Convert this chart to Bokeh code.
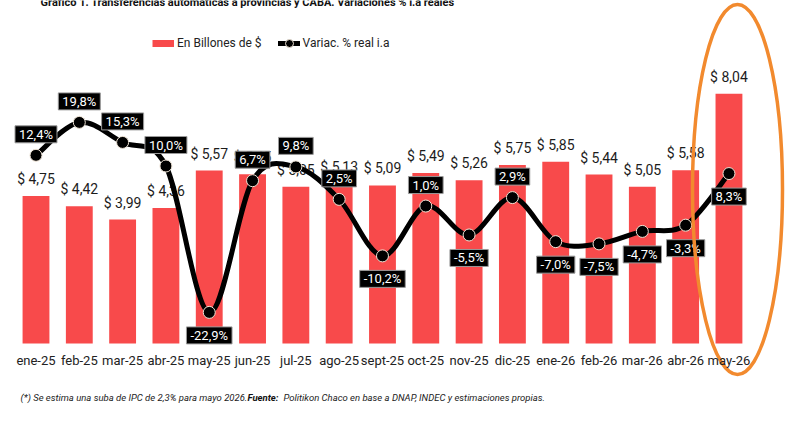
from bokeh.plotting import figure
from bokeh.models import Range1d, LinearAxis, FixedTicker, Legend, LegendItem, ColumnDataSource
from bokeh.core.properties import value
from bokeh.embed import file_html
from bokeh.resources import INLINE

# Monthly automatic transfers to provinces and CABA
meses = ["ene-25", "feb-25", "mar-25", "abr-25", "may-25", "jun-25", "jul-25",
         "ago-25", "sept-25", "oct-25", "nov-25", "dic-25", "ene-26", "feb-26",
         "mar-26", "abr-26", "may-26"]
billones = [4.75, 4.42, 3.99, 4.36, 5.57, 5.45, 5.05, 5.13, 5.09, 5.49, 5.26,
            5.75, 5.85, 5.44, 5.05, 5.58, 8.04]
variacion = [12.4, 19.8, 15.3, 10.0, -22.9, 6.7, 9.8, 2.5, -10.2, 1.0, -5.5,
             2.9, -7.0, -7.5, -4.7, -3.3, 8.3]

titulo = "Gráfico 1. Transferencias automáticas a provincias y CABA. Variaciones % i.a reales"
nota = "(*) Se estima una suba de IPC de 2,3% para mayo 2026."
fuente_tag = "Fuente:"
fuente = "Politikon Chaco en base a DNAP, INDEC y estimaciones propias."

W, H = 800, 445
BAR_RED = "#F84A4B"
SANS = value("Roboto")

# pixel layout of the frame -> data ranges
X0, DX = 35.5, 43.31          # centre of first month, month spacing (px)
Y0, SY = 343.0, 31.05         # bar baseline (px), px per billion
P0, SP = 210.0, 4.45          # zero of % scale (px), px per point


def px_x(px):
    return (px - X0) / DX


def px_y(py):
    return (Y0 - py) / SY


p = figure(width=W, height=H, min_border=0, toolbar_location=None,
           output_backend="svg", x_axis_location=None, y_axis_location=None,
           x_range=Range1d(px_x(0), px_x(W)),
           y_range=Range1d(px_y(H), px_y(0)))
p.extra_y_ranges = {"pct": Range1d(-(H - P0) / SP, P0 / SP)}
p.grid.visible = False
p.outline_line_color = None
p.background_fill_color = "white"
p.border_fill_color = "white"

idx = list(range(len(meses)))
src = ColumnDataSource(dict(
    x=idx, monto=billones, var=variacion,
    monto_txt=["$ " + f"{v:.2f}".replace(".", ",") for v in billones],
    var_txt=[f"{v:.1f}".replace(".", ",") + "%" for v in variacion],
    var_off=[23 if (v < 0 or i == len(variacion) - 1) else -21
             for i, v in enumerate(variacion)],
))

bars = p.vbar(x="x", top="monto", width=0.62, source=src,
              fill_color=BAR_RED, line_color=None)
p.text(x="x", y="monto", text="monto_txt", source=src, y_offset=-17,
       text_align="center", text_baseline="middle", text_font=SANS,
       text_font_size="14px", text_color="#1c1c1c")

# smoothed line: cubic Bezier segments through the monthly values
n = len(variacion)
seg = dict(x0=[], y0=[], x1=[], y1=[], cx0=[], cy0=[], cx1=[], cy1=[])
for i in range(n - 1):
    a = max(i - 1, 0)
    b = min(i + 2, n - 1)
    seg["x0"].append(idx[i]); seg["y0"].append(variacion[i])
    seg["x1"].append(idx[i + 1]); seg["y1"].append(variacion[i + 1])
    seg["cx0"].append(idx[i] + (idx[i + 1] - idx[a]) / 6)
    seg["cy0"].append(variacion[i] + (variacion[i + 1] - variacion[a]) / 6)
    seg["cx1"].append(idx[i + 1] - (idx[b] - idx[i]) / 6)
    seg["cy1"].append(variacion[i + 1] - (variacion[b] - variacion[i]) / 6)
p.bezier(source=ColumnDataSource(seg), x0="x0", y0="y0", x1="x1", y1="y1",
         cx0="cx0", cy0="cy0", cx1="cx1", cy1="cy1", line_color="black",
         line_width=5, line_cap="round", y_range_name="pct")
dots = p.scatter(x="x", y="var", source=src, size=12, fill_color="black",
                 line_color="#efe4d6", line_width=1, y_range_name="pct")

# legend swatches (kept outside the visible ranges)
swatch_bar = p.line(x=[-10, -9], y=[-100, -100], line_color=BAR_RED,
                    line_width=7)
swatch_line = p.line(x=[-10, -9], y=[-100, -100], line_color="black",
                     line_width=5, line_cap="round")

p.text(x="x", y="var", text="var_txt", source=src, y_offset="var_off",
       y_range_name="pct", text_align="center", text_baseline="middle",
       text_font=SANS, text_font_size="13px", text_color="white",
       background_fill_color="black", border_line_color="#9a9a9a",
       border_line_width=1, padding=(4, 1))

# highlight around the last month
p.ellipse(x=[px_x(737)], y=[px_y(189)], width=90, height=370,
          width_units="screen", height_units="screen", fill_alpha=0,
          line_color="#F28A2E", line_width=3.5)

# title (cut by the top edge), footnote
p.text(x=[px_x(247)], y=[px_y(1.5)], text=[titulo], text_align="center",
       text_baseline="middle", text_font=SANS, text_font_style="bold",
       text_font_size="11px", text_color="#111111")
p.text(x=[px_x(20)], y=[px_y(397)], text=[nota], text_align="left",
       text_baseline="middle", text_font=SANS, text_font_style="italic",
       text_font_size="9.5px", text_color="#222222")
p.text(x=[px_x(247)], y=[px_y(397)], text=[fuente_tag], text_align="left",
       text_baseline="middle", text_font=SANS,
       text_font_style="bold italic", text_font_size="9.5px",
       text_color="#111111")
p.text(x=[px_x(283)], y=[px_y(397)], text=[fuente], text_align="left",
       text_baseline="middle", text_font=SANS, text_font_style="italic",
       text_font_size="9.5px", text_color="#222222")

# month axis sitting on the bar baseline
xaxis = LinearAxis(fixed_location=0, ticker=FixedTicker(ticks=idx),
                   major_label_overrides={i: m for i, m in enumerate(meses)})
xaxis.axis_line_color = None
xaxis.major_tick_line_color = None
xaxis.minor_tick_line_color = None
xaxis.major_tick_out = 0
xaxis.major_tick_in = 0
xaxis.major_label_standoff = 9
xaxis.major_label_text_font = "Roboto"
xaxis.major_label_text_font_size = "13px"
xaxis.major_label_text_color = "#222222"
p.add_layout(xaxis, "below")

legend = Legend(items=[
    LegendItem(label="En Billones de $", renderers=[swatch_bar]),
    LegendItem(label="Variac. % real i.a", renderers=[swatch_line, dots]),
], orientation="horizontal", location=(152, 392), glyph_width=22,
    glyph_height=20, label_text_font="Roboto", label_text_font_size="12px",
    label_text_color="#222222", label_standoff=3, spacing=16, padding=0,
    margin=0, border_line_color=None, background_fill_alpha=0)
p.add_layout(legend)

open("out.html", "w").write(file_html(p, INLINE))
